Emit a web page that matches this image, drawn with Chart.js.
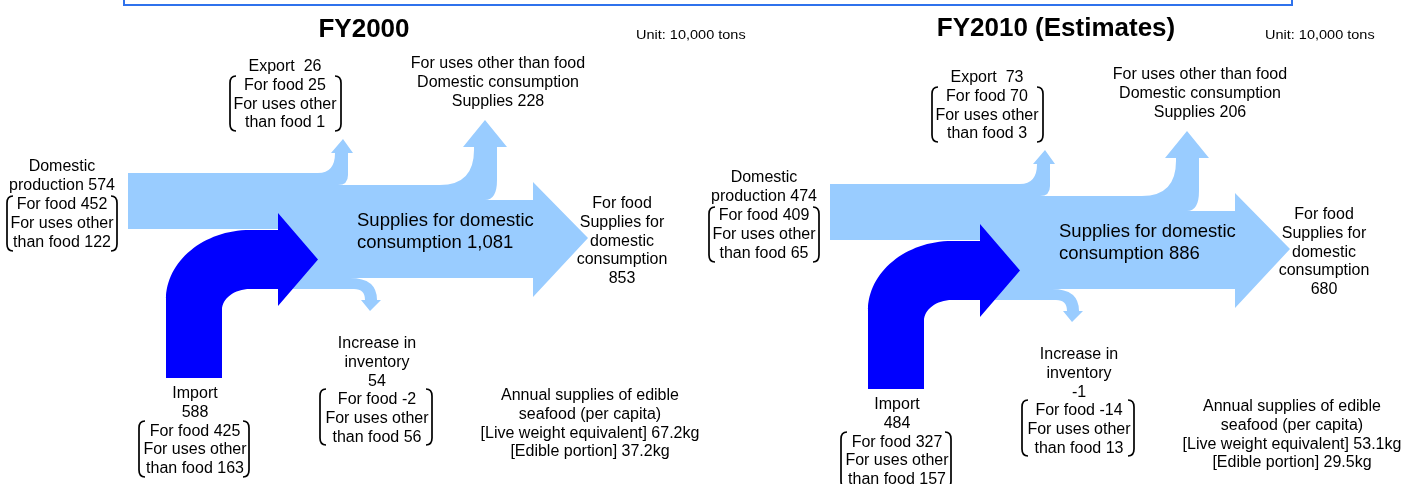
<!DOCTYPE html>
<html>
<head>
<meta charset="utf-8">
<script src="https://cdn.jsdelivr.net/npm/chart.js@4.4.1/dist/chart.umd.min.js"></script>
<style>
  body { margin: 0; background: #fff; }
  canvas { display: block; }
</style>
</head>
<body>
<canvas id="flowChart" width="1401" height="484"></canvas>
<script>
// Seafood supply and demand (unit: 10,000 tons)
const years = ['FY2000', 'FY2010 (Estimates)'];
const domesticProduction = [574, 474];
const domesticFood = [452, 409];
const domesticOther = [122, 65];
const importTotal = [588, 484];
const importFood = [425, 327];
const importOther = [163, 157];
const exportTotal = [26, 73];
const exportFood = [25, 70];
const exportOther = [1, 3];
const domesticSupplies = [1081, 886];
const nonFoodSupplies = [228, 206];
const foodSupplies = [853, 680];
const inventoryChange = [54, -1];
const inventoryFood = [-2, -14];
const inventoryOther = [56, 13];
const liveWeightKg = [67.2, 53.1];
const ediblePortionKg = [37.2, 29.5];

// layout of each panel (offset of the arrow template)
const panelOffset = [{ dx: 0, dy: 0 }, { dx: 702, dy: 11 }];
const titlePos = [{ x: 364, y: 29, unitX: 636 }, { x: 1056, y: 28, unitX: 1265 }];

const LIGHT = '#99ccff';
const DARK = '#0000ff';
const FONT = '"Liberation Sans", Arial, sans-serif';

function fmt(n) {
    return n.toLocaleString('en-US');
}

const flowPlugin = {
    id: 'flowPlugin',
    afterDraw(chart) {
        const ctx = chart.ctx;
        const xs = chart.scales.x;
        const ys = chart.scales.y;

        // frame edge at the top
        ctx.save();
        ctx.strokeStyle = '#2f72ec';
        ctx.lineWidth = 2;
        ctx.beginPath();
        ctx.moveTo(xs.getPixelForValue(124), ys.getPixelForValue(0));
        ctx.lineTo(xs.getPixelForValue(124), ys.getPixelForValue(5));
        ctx.lineTo(xs.getPixelForValue(1292), ys.getPixelForValue(5));
        ctx.lineTo(xs.getPixelForValue(1292), ys.getPixelForValue(0));
        ctx.stroke();
        ctx.restore();

        years.forEach(function (year, i) {
            const o = panelOffset[i];
            const X = v => xs.getPixelForValue(o.dx + v);
            const Y = v => ys.getPixelForValue(o.dy + v);
            const M = (x, y) => ctx.moveTo(X(x), Y(y));
            const L = (x, y) => ctx.lineTo(X(x), Y(y));
            const Q = (cx, cy, x, y) => ctx.quadraticCurveTo(X(cx), Y(cy), X(x), Y(y));
            const C = (c1x, c1y, c2x, c2y, x, y) => ctx.bezierCurveTo(X(c1x), Y(c1y), X(c2x), Y(c2y), X(x), Y(y));

            // light blue: domestic production -> supplies, with branches
            ctx.save();
            ctx.fillStyle = LIGHT;
            ctx.beginPath();
            M(128, 173);
            L(318, 173);
            Q(335, 173, 335, 153);
            L(331, 153); L(343, 139); L(353, 153); L(348, 153);
            L(348, 175);
            Q(348, 185, 338, 185);
            L(440, 185);
            Q(474, 185, 474, 150);
            L(474, 147);
            L(463, 147); L(485, 120); L(507, 147); L(497, 147);
            L(497, 180);
            Q(497, 200, 485, 200);
            L(533, 200);
            L(533, 182); L(588, 238); L(533, 297);
            L(533, 278);
            L(350, 278);
            Q(377, 278, 377, 300);
            L(381, 300); L(370, 311); L(361, 300); L(365, 300);
            Q(365, 289, 354, 289);
            L(285, 289);
            L(285, 229);
            L(128, 229);
            ctx.closePath();
            ctx.fill();

            // dark blue: import
            ctx.fillStyle = DARK;
            ctx.beginPath();
            M(166, 378);
            L(166, 300);
            C(166, 261, 204, 230, 250, 230);
            L(278, 230);
            L(278, 213); L(318, 259.5); L(278, 306);
            L(278, 289);
            L(250, 289);
            C(234.5, 289, 222, 298.4, 222, 310);
            L(222, 378);
            ctx.closePath();
            ctx.fill();
            ctx.restore();

            // text
            ctx.save();
            ctx.fillStyle = '#000';
            ctx.textBaseline = 'middle';
            ctx.textAlign = 'center';
            const block = function (lines, cx, y0, size, step, align) {
                ctx.font = size + 'px ' + FONT;
                ctx.textAlign = align || 'center';
                lines.forEach(function (t, k) {
                    ctx.fillText(t, X(cx), Y(y0 + k * step));
                });
            };
            const bracket = function (x1, x2, y1, y2) {
                ctx.save();
                ctx.strokeStyle = '#000';
                ctx.lineWidth = 1.7;
                ctx.beginPath();
                M(x1 + 6, y1); Q(x1, y1, x1, y1 + 7); L(x1, y2 - 7); Q(x1, y2, x1 + 6, y2);
                M(x2 - 6, y1); Q(x2, y1, x2, y1 + 7); L(x2, y2 - 7); Q(x2, y2, x2 - 6, y2);
                ctx.stroke();
                ctx.restore();
            };
            const S = 16, STEP = 18.8;

            block(['Export  ' + exportTotal[i], 'For food ' + exportFood[i], 'For uses other', 'than food ' + exportOther[i]], 285, 66.5, S, STEP);
            bracket(230, 341, 76, 131);

            block(['Domestic', 'production ' + domesticProduction[i], 'For food ' + domesticFood[i], 'For uses other', 'than food ' + domesticOther[i]], 62, 167, S, STEP);
            bracket(7, 117, 196, 251);

            block(['For uses other than food', 'Domestic consumption', 'Supplies ' + nonFoodSupplies[i]], 498, 63.5, S, STEP);

            block(['Supplies for domestic', 'consumption ' + fmt(domesticSupplies[i])], 357, 221, 18.5, 22, 'left');

            block(['For food', 'Supplies for', 'domestic', 'consumption', String(foodSupplies[i])], 622, 203.5, S, STEP);

            block(['Increase in', 'inventory', String(inventoryChange[i]), 'For food ' + inventoryFood[i], 'For uses other', 'than food ' + inventoryOther[i]], 377, 343.5, S, STEP);
            bracket(320, 432, 389, 445);

            block(['Import', String(importTotal[i]), 'For food ' + importFood[i], 'For uses other', 'than food ' + importOther[i]], 195, 393.5, S, STEP);
            bracket(139, 249, 421, 477);

            block(['Annual supplies of edible', 'seafood (per capita)', '[Live weight equivalent] ' + liveWeightKg[i] + 'kg', '[Edible portion] ' + ediblePortionKg[i] + 'kg'], 590, 395.5, S, STEP);
            ctx.restore();

            // title and unit (not offset vertically)
            const tp = titlePos[i];
            ctx.save();
            ctx.fillStyle = '#000';
            ctx.textBaseline = 'middle';
            ctx.textAlign = 'center';
            ctx.font = 'bold 26px ' + FONT;
            ctx.fillText(year, xs.getPixelForValue(tp.x), ys.getPixelForValue(tp.y + 1));
            ctx.textAlign = 'left';
            ctx.font = '14.5px ' + FONT;
            ctx.save();
            ctx.translate(xs.getPixelForValue(tp.unitX), ys.getPixelForValue(35));
            ctx.scale(1, 0.9);
            ctx.fillText('Unit: 10,000 tons', 0, 0);
            ctx.restore();
            ctx.restore();
        });
    }
};

const ctx = document.getElementById('flowChart').getContext('2d');
const flowChart = new Chart(ctx, {
    type: 'scatter',
    data: { datasets: [{ data: [] }] },
    options: {
        responsive: false,
        animation: false,
        layout: { padding: 0 },
        plugins: {
            legend: { display: false },
            tooltip: { enabled: false }
        },
        scales: {
            x: { type: 'linear', min: 0, max: 1401, display: false },
            y: { type: 'linear', min: 0, max: 484, reverse: true, display: false }
        }
    },
    plugins: [flowPlugin]
});
</script>
</body>
</html>
